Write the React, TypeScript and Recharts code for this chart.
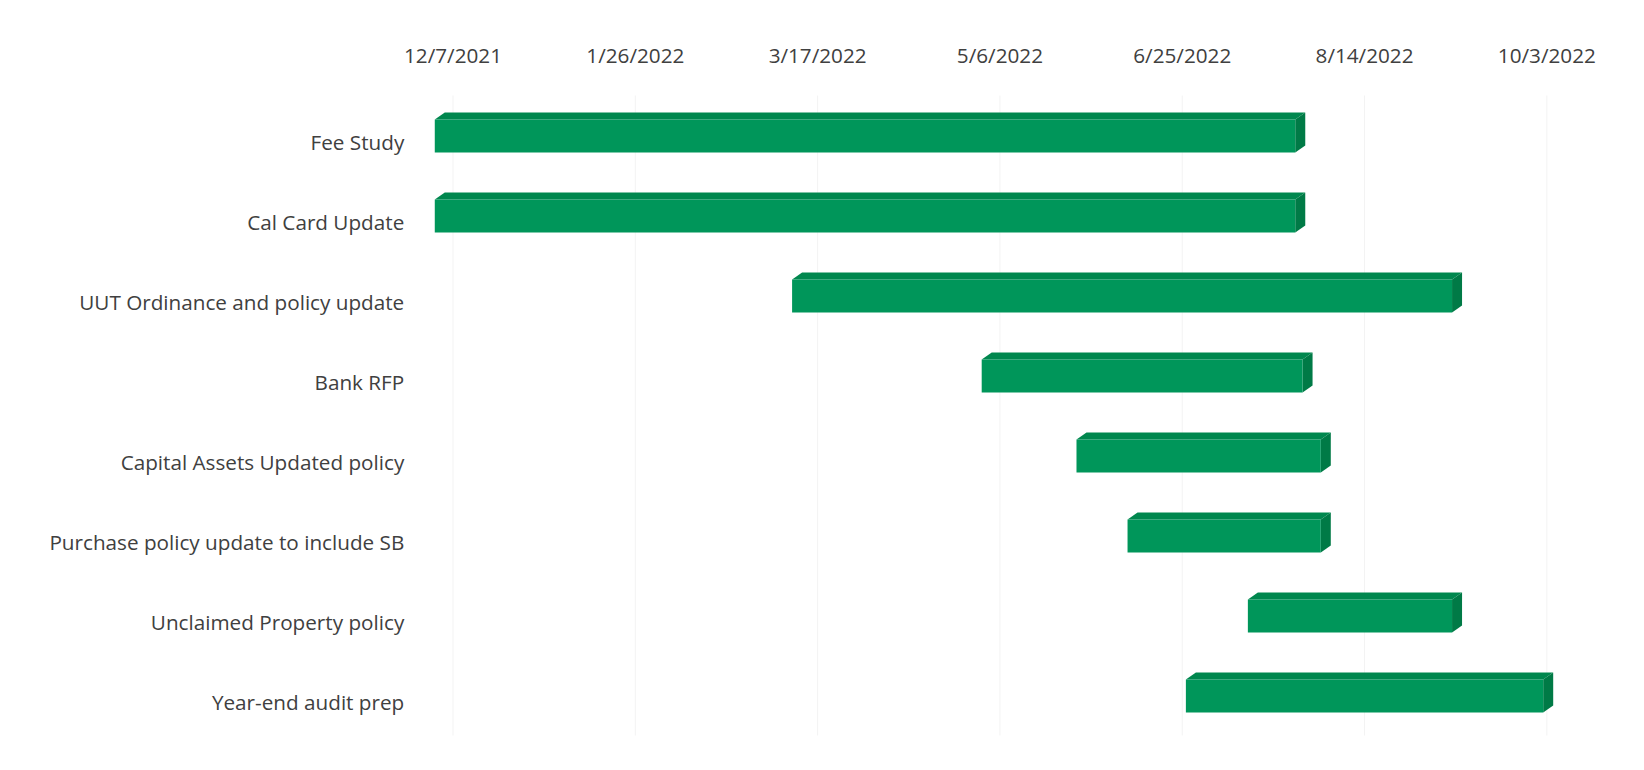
import { Bar, BarChart, CartesianGrid, XAxis, YAxis } from "recharts";

const tasks = [
  "Fee Study",
  "Cal Card Update",
  "UUT Ordinance and policy update",
  "Bank RFP",
  "Capital Assets Updated policy",
  "Purchase policy update to include SB",
  "Unclaimed Property policy",
  "Year-end audit prep",
];

const startDates = [
  "2021-12-02",
  "2021-12-02",
  "2022-03-10",
  "2022-05-01",
  "2022-05-27",
  "2022-06-10",
  "2022-07-13",
  "2022-06-26",
];

const endDates = [
  "2022-07-26",
  "2022-07-26",
  "2022-09-07",
  "2022-07-28",
  "2022-08-02",
  "2022-08-02",
  "2022-09-07",
  "2022-10-02",
];

const tickDates = [
  "2021-12-07",
  "2022-01-26",
  "2022-03-17",
  "2022-05-06",
  "2022-06-25",
  "2022-08-14",
  "2022-10-03",
];

const BASE = Date.UTC(2021, 11, 7);
const DAY = 86400000;

const toDay = (s: string) => {
  const [y, m, d] = s.split("-").map(Number);
  return (Date.UTC(y, m - 1, d) - BASE) / DAY;
};

const fmtDay = (n: number) => {
  const dt = new Date(BASE + n * DAY);
  return `${dt.getUTCMonth() + 1}/${dt.getUTCDate()}/${dt.getUTCFullYear()}`;
};

const data = tasks.map((task, i) => ({
  task,
  start: toDay(startDates[i]),
  end: toDay(endDates[i]),
}));

const ticks = tickDates.map(toDay);

const FONT = "'Open Sans', sans-serif";
const TEXT = "#404040";

// front face + top face + right side, like Excel's 3-D bars
const Bar3D = (props: any) => {
  const { x, y, width, height } = props;
  if (width == null || height == null) return null;
  const dx = 10;
  const dy = 7;
  return (
    <g>
      <polygon
        points={`${x},${y} ${x + dx},${y - dy} ${x + width + dx},${y - dy} ${x + width},${y}`}
        fill="#00874e"
      />
      <polygon
        points={`${x + width},${y} ${x + width + dx},${y - dy} ${x + width + dx},${y + height - dy} ${x + width},${y + height}`}
        fill="#007a46"
      />
      <rect x={x} y={y} width={width} height={height} fill="#00965a" />
    </g>
  );
};

const XTick = ({ x, y, payload }: any) => (
  <text
    x={x}
    y={y - 40.5}
    textAnchor="middle"
    dominantBaseline="central"
    fontFamily={FONT}
    fontSize={20.7}
    fill={TEXT}
  >
    {fmtDay(payload.value)}
  </text>
);

const YTick = ({ x, y, payload }: any) => (
  <text
    x={x}
    y={y + 6}
    textAnchor="end"
    dominantBaseline="central"
    fontFamily={FONT}
    fontSize={20.7}
    fill={TEXT}
  >
    {payload.value}
  </text>
);

export default function App() {
  return (
    <div style={{ position: "absolute", left: 0, top: 0, background: "#fff" }}>
      <BarChart
        width={1644}
        height={770}
        data={data}
        layout="vertical"
        margin={{ top: 0, right: 53.4, bottom: 34.5, left: 0 }}
      >
        <CartesianGrid horizontal={false} syncWithTicks stroke="#f3f3f3" />
        <XAxis
          type="number"
          orientation="top"
          domain={[-12, 312]}
          ticks={ticks}
          interval={0}
          height={95.5}
          axisLine={false}
          tickLine={false}
          tickSize={0}
          tickMargin={0}
          tick={<XTick />}
        />
        <YAxis
          type="category"
          dataKey="task"
          width={409.25}
          axisLine={false}
          tickLine={false}
          tickSize={0}
          tickMargin={5}
          interval={0}
          tick={<YTick />}
        />
        <Bar
          dataKey={(d: any) => [d.start, d.end]}
          barSize={33}
          shape={<Bar3D />}
          isAnimationActive={false}
        />
      </BarChart>
    </div>
  );
}
